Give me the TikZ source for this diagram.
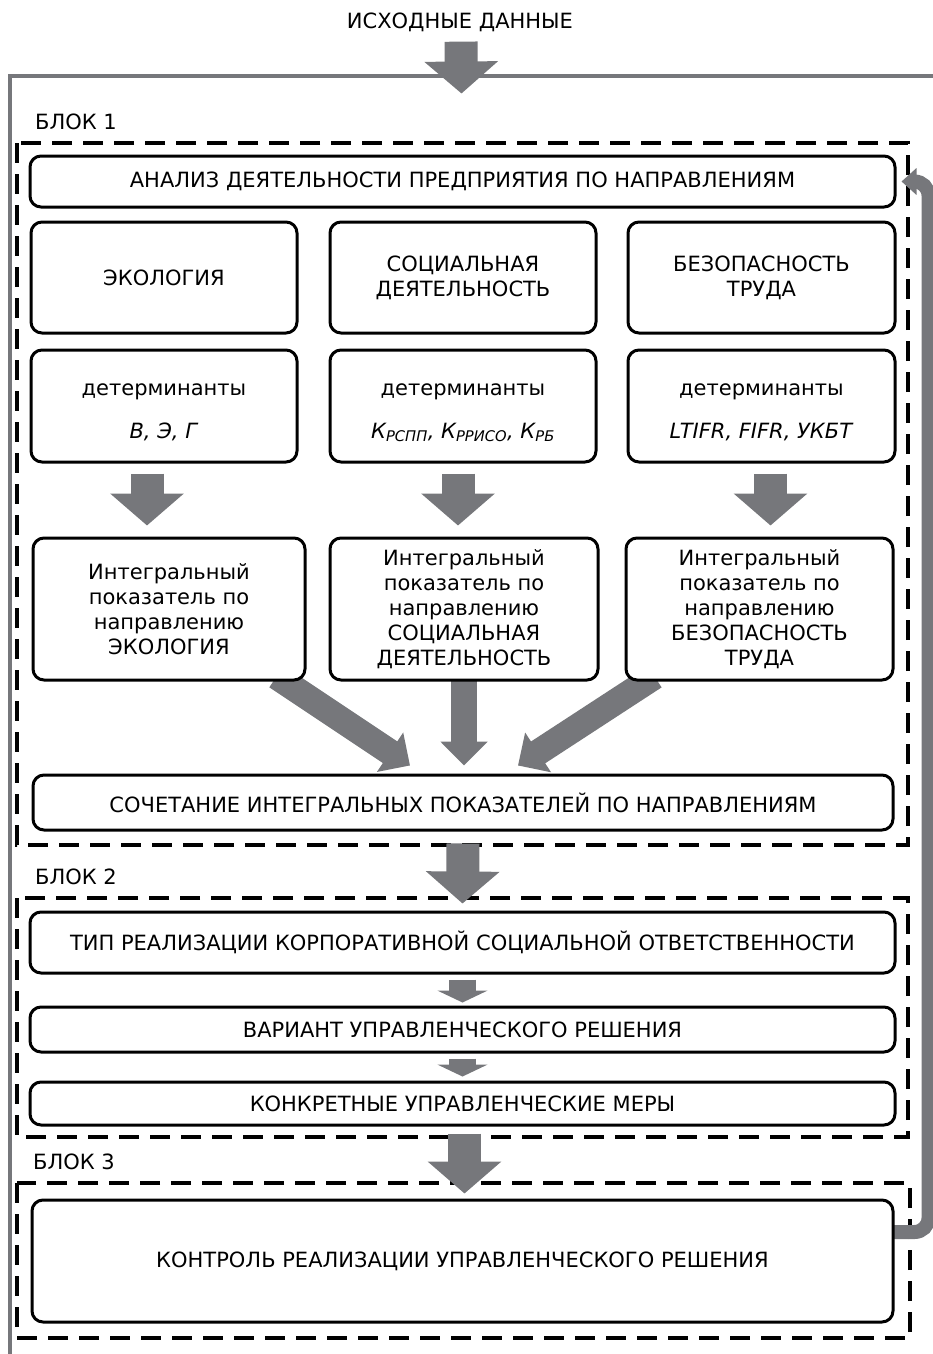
\documentclass[tikz,border=0pt]{standalone}
\usepackage{fontspec}
\setmainfont{DejaVu Sans}
\usetikzlibrary{arrows.meta,calc,backgrounds}
\definecolor{arrgray}{RGB}{118,119,123}
\tikzset{
  txt/.style={font=\fontsize{21}{25}\selectfont, inner sep=0pt, align=center},
  box/.style={txt, draw, line width=3pt, rounded corners=11pt, fill=white},
  blok/.style={draw, line width=3.5pt, dash pattern=on 20pt off 11pt},
  bigarrow/.style={arrgray, line width=33pt, -{Triangle[width=72pt,length=32pt]}},
  joinarrow/.style={arrgray, line width=26pt, -{Triangle[width=46pt,length=24pt]}},
  smallarrow/.style={arrgray, line width=27pt, -{Triangle[width=50pt,length=12pt]}},
  backarrow/.style={arrgray, line width=14pt, rounded corners=14pt, -{Triangle[width=26pt,length=15pt]}}
}
\begin{document}
\begin{tikzpicture}[x=1pt,y=-1pt]
\useasboundingbox (0,0) rectangle (933,1354);
\node[txt] (src) at (460,22) {ИСХОДНЫЕ ДАННЫЕ};
\node[txt, anchor=west] (blok1) at (35,122) {БЛОК 1};
\node[txt, anchor=west] (blok2) at (35,877) {БЛОК 2};
\node[txt, anchor=west] (blok3) at (33,1162) {БЛОК 3};
% блок 1
\node[box, minimum width=865pt, minimum height=51pt] (analiz) at (462.5,181.5) {АНАЛИЗ ДЕЯТЕЛЬНОСТИ ПРЕДПРИЯТИЯ ПО НАПРАВЛЕНИЯМ};
\node[box, minimum width=266pt, minimum height=111pt] (eco) at (164,277.5) {ЭКОЛОГИЯ};
\node[box, minimum width=266pt, minimum height=111pt] (soc) at (463,277.5) {СОЦИАЛЬНАЯ\\ДЕЯТЕЛЬНОСТЬ};
\node[box, minimum width=267pt, minimum height=111pt] (bez) at (761.5,277.5) {БЕЗОПАСНОСТЬ\\ТРУДА};
\node[box, minimum width=266pt, minimum height=112pt] (deco) at (164,406) {\rule{0pt}{25pt}детерминанты\\[18pt]\textit{В, Э, Г}};
\node[box, minimum width=266pt, minimum height=112pt] (dsoc) at (463,406) {\rule{0pt}{25pt}детерминанты\\[18pt]\textit{К\textsubscript{РСПП}, К\textsubscript{РРИСО}, К\textsubscript{РБ}}};
\node[box, minimum width=267pt, minimum height=112pt] (dbez) at (761.5,406) {\rule{0pt}{25pt}детерминанты\\[18pt]\textit{LTIFR, FIFR, УКБТ}};
\node[box, minimum width=272pt, minimum height=142pt] (ieco) at (169,609) {Интегральный\\показатель по\\направлению\\ЭКОЛОГИЯ};
\node[box, minimum width=268pt, minimum height=142pt] (isoc) at (464,609) {Интегральный\\показатель по\\направлению\\СОЦИАЛЬНАЯ\\ДЕЯТЕЛЬНОСТЬ};
\node[box, minimum width=267pt, minimum height=142pt] (ibez) at (759.5,609) {Интегральный\\показатель по\\направлению\\БЕЗОПАСНОСТЬ\\ТРУДА};
\node[box, minimum width=860pt, minimum height=55pt] (combo) at (463,802.5) {СОЧЕТАНИЕ ИНТЕГРАЛЬНЫХ ПОКАЗАТЕЛЕЙ ПО НАПРАВЛЕНИЯМ};
% блок 2
\node[box, minimum width=865pt, minimum height=61pt] (tip) at (462.5,942.5) {ТИП РЕАЛИЗАЦИИ КОРПОРАТИВНОЙ СОЦИАЛЬНОЙ ОТВЕТСТВЕННОСТИ};
\node[box, minimum width=865pt, minimum height=45pt] (variant) at (462.5,1029.5) {ВАРИАНТ УПРАВЛЕНЧЕСКОГО РЕШЕНИЯ};
\node[box, minimum width=865pt, minimum height=43pt] (mery) at (462.5,1103.5) {КОНКРЕТНЫЕ УПРАВЛЕНЧЕСКИЕ МЕРЫ};
% блок 3
\node[box, minimum width=861pt, minimum height=122pt] (kontrol) at (462.5,1261) {КОНТРОЛЬ РЕАЛИЗАЦИИ УПРАВЛЕНЧЕСКОГО РЕШЕНИЯ};

\begin{pgfonlayer}{background}
\draw[arrgray, line width=4pt] (933,76) -- (9.5,76) -- (9.5,1354);
\draw[blok] (17,143) rectangle (908,845);
\draw[blok] (17,898) rectangle (908,1137);
\draw[blok] (17,1183) rectangle (910,1338);
% стрелки
\draw[bigarrow] ($(src.south)+(1,10)$) -- ($(analiz.north)+(-1,-61)$);
\draw[bigarrow] ($(deco.south)+(-17,10)$) -- ($(ieco.north)+(-22,-11)$);
\draw[bigarrow] ($(dsoc.south)+(-5,10)$) -- ($(isoc.north)+(-6,-11)$);
\draw[bigarrow] ($(dbez.south)+(9,10)$) -- ($(ibez.north)+(11,-11)$);
\draw[joinarrow] ($(ieco.south east)+(-30,-5)$) -- ($(combo.north)+(-53,-8)$);
\draw[joinarrow] ($(isoc.south)+(0,-5)$) -- ($(combo.north)+(1,-8)$);
\draw[joinarrow] ($(ibez.south west)+(30,-5)$) -- ($(combo.north)+(55,-8)$);
\draw[bigarrow] ($(combo.south)+(0,12)$) -- ($(tip.north)+(0,-7)$);
\draw[smallarrow] ($(tip.south)+(0,5)$) -- ($(variant.north)+(0,-3)$);
\draw[smallarrow] ($(variant.south)+(0,5)$) -- ($(mery.north)+(0,-4)$);
\draw[bigarrow] ($(mery.south)+(2,7)$) -- ($(kontrol.north)+(2,-5)$);
% обратная связь
\draw[backarrow] ([xshift=-10pt,yshift=29pt]kontrol.east) -- ++(44,0) |- ([xshift=5pt]analiz.east);
\end{pgfonlayer}
\end{tikzpicture}
\end{document}
